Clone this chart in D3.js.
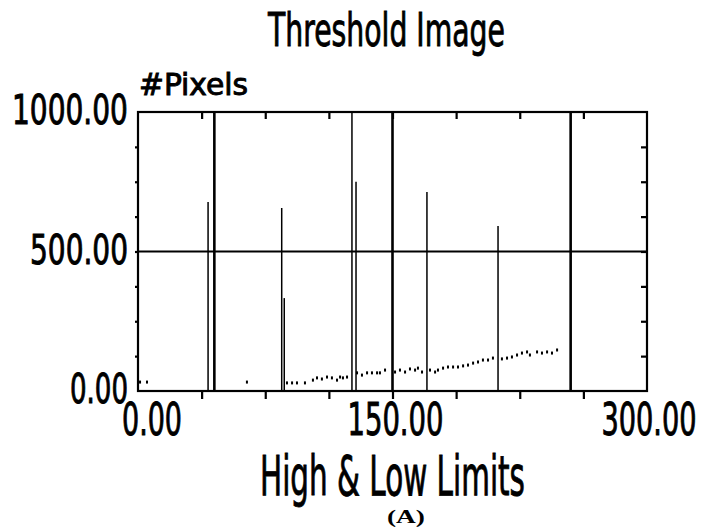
<!DOCTYPE html>
<html>
<head>
<meta charset="utf-8">
<script src="https://cdn.jsdelivr.net/npm/d3@7"></script>
<style>
  html, body { margin: 0; padding: 0; background: #fff; }
  svg { display: block; }
  .cond { font-family: "Liberation Sans Narrow", "DejaVu Sans Condensed", "Arial Narrow", sans-serif; font-weight: normal; fill: #000; stroke: #000; stroke-width: 0.9; }
</style>
</head>
<body>
<svg id="chart" width="704" height="528"></svg>
<script>
// ---- data ----
const xTickValues = [0, 150, 300];
const xTickLabels = ["0.00", "150.00", "300.00"];
const yTickValues = [0, 500, 1000];
const yTickLabels = ["0.00", "500.00", "1000.00"];
const minorTicks = [0, 37.5, 75, 112.5, 150, 187.5, 225, 262.5, 300];
const yMinorTicks = [0, 125, 250, 375, 500, 625, 750, 875, 1000];
const thresholdLimits = [45, 150, 255];
const spikeBins = [41.3, 84.7, 86.2, 126.1, 128.5, 170.3, 212.2];
const spikeCounts = [677, 656, 333, 1000, 750, 713, 591];
const noiseBins = [1.2, 5.3, 64.2, 87.8, 90.8, 93.7, 98.4, 103.1, 105.5, 108.4, 111.4, 114.3, 117.3, 119.1, 120.8, 123.2,
  129.1, 132.0, 135.0, 137.9, 140.9, 142.6, 145.6, 151.5, 154.4, 157.4, 160.3, 163.3, 165.0, 167.4, 172.1, 175.1,
  176.8, 179.8, 182.7, 185.7, 188.6, 191.6, 194.5, 197.5, 200.4, 203.3, 206.3, 209.2, 214.5, 217.5, 220.4, 223.4,
  226.3, 229.3, 231.0, 235.2, 238.1, 241.1, 244.0, 247.0];
const noiseCounts = [32, 32, 32, 29, 29, 29, 29, 39, 47, 43, 50, 47, 39, 50, 47, 50,
  65, 57, 65, 65, 65, 65, 75, 68, 75, 68, 79, 75, 82, 68, 75, 68,
  75, 82, 86, 86, 86, 90, 93, 100, 104, 111, 111, 118, 115, 118, 122, 129,
  136, 140, 129, 140, 136, 140, 136, 147];
const titleText = "Threshold Image";
const yAxisTitle = "#Pixels";
const xAxisTitle = "High & Low Limits";
const captionText = "(A)";

// ---- layout ----
const svg = d3.select("#chart");
const L = 138, R = 647, T = 112, B = 391;
const x = d3.scaleLinear().domain([0, 300]).range([L, R]);
const y = d3.scaleLinear().domain([0, 1000]).range([B, T]);

const g = svg.append("g");

const fmt = () => "";
function styleAxis(sel) {
  sel.select(".domain").remove();
  sel.selectAll("line").attr("stroke", "#000").attr("stroke-width", 2.2);
}
g.append("g").attr("transform", `translate(0,${B})`)
  .call(d3.axisBottom(x).tickValues(minorTicks.slice(1, -1)).tickSize(8).tickFormat(fmt)).call(styleAxis);
g.append("g").attr("transform", `translate(0,${T})`)
  .call(d3.axisBottom(x).tickValues(minorTicks.slice(1, -1)).tickSize(7).tickFormat(fmt)).call(styleAxis);
g.append("g").attr("transform", `translate(${L},0)`)
  .call(d3.axisLeft(y).tickValues(yMinorTicks.slice(1, -1)).tickSize(3).tickFormat(fmt)).call(styleAxis);
g.append("g").attr("transform", `translate(${R},0)`)
  .call(d3.axisLeft(y).tickValues(yMinorTicks.slice(1, -1)).tickSize(6).tickFormat(fmt)).call(styleAxis);

// frame
g.append("rect").attr("x", L).attr("y", T).attr("width", R - L).attr("height", B - T)
  .attr("fill", "none").attr("stroke", "#000").attr("stroke-width", 2.2);

// 500 horizontal line
g.append("line").attr("x1", L).attr("x2", R).attr("y1", y(500)).attr("y2", y(500))
  .attr("stroke", "#000").attr("stroke-width", 2);

// threshold lines
g.selectAll(".thr").data(thresholdLimits).join("line")
  .attr("x1", d => x(d)).attr("x2", d => x(d)).attr("y1", T).attr("y2", B)
  .attr("stroke", "#000").attr("stroke-width", 2.6);

// spikes
const spikes = spikeBins.map((b, i) => ({ b, c: spikeCounts[i] }));
g.selectAll(".spike").data(spikes).join("line")
  .attr("x1", d => x(d.b)).attr("x2", d => x(d.b)).attr("y1", d => y(d.c)).attr("y2", B)
  .attr("stroke", "#000").attr("stroke-width", 1.5);

// noise dots
const noise = noiseBins.map((b, i) => ({ b, c: noiseCounts[i] }));
g.selectAll(".dot").data(noise).join("rect")
  .attr("x", d => x(d.b) - 1).attr("y", d => y(d.c) - 1.5).attr("width", 2).attr("height", 3)
  .attr("fill", "#000");

// texts: condensed horizontally with a scale transform to a target width
function txt(s, x0, yb, size, len, cls, extra) {
  const t = svg.append("text").attr("class", cls || "cond").attr("x", 0).attr("y", 0)
    .attr("font-size", size).text(s);
  if (extra) extra(t);
  const w = t.node().getComputedTextLength();
  const sx = len / w;
  t.attr("transform", `translate(${x0},${yb}) scale(${sx},1)`);
  return t;
}
txt(titleText, 268, 46, 46, 237);
txt(yAxisTitle, 139, 95, 30, 109);

const yLabLen = [58, 98, 116];
yTickValues.forEach((v, i) => {
  txt(yTickLabels[i], L - 10 - yLabLen[i], y(v) + 12, 41, yLabLen[i]);
});
const xLabLen = [60, 96, 95];
const xLabCenter = [x(0) + 14, x(150) + 3, x(300) + 2];
xTickValues.forEach((v, i) => {
  txt(xTickLabels[i], xLabCenter[i] - xLabLen[i] / 2, 435, 45, xLabLen[i]);
});
txt(xAxisTitle, 260, 495, 56, 265);

txt(captionText, 387, 523, 18, 38, "cap", t => t
  .attr("font-family", "'Liberation Serif', 'Times New Roman', serif").attr("font-weight", "bold"));
</script>
</body>
</html>
